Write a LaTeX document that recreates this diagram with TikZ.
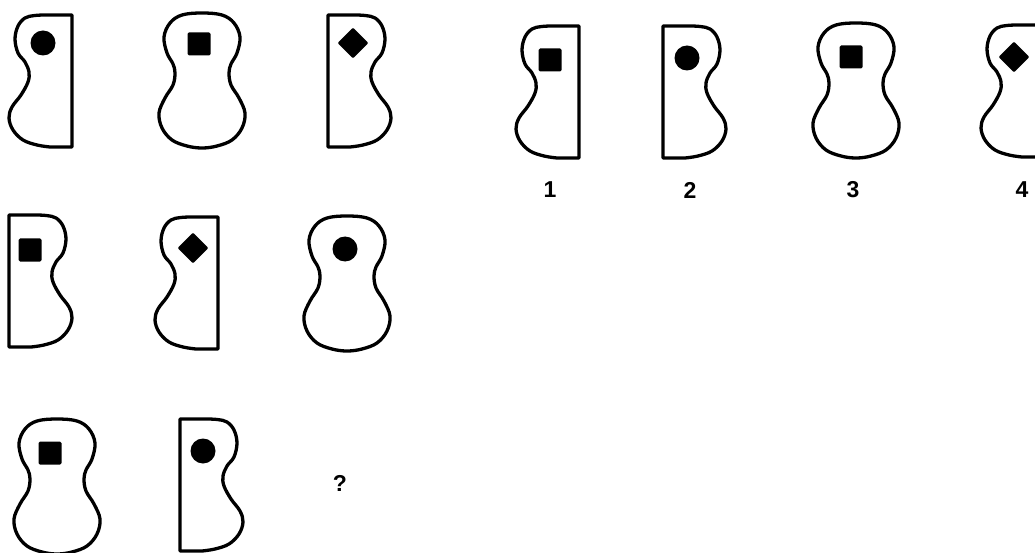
\documentclass[tikz,border=0pt]{standalone}
\usepackage{fontspec}
\setmainfont{Liberation Sans}
\usetikzlibrary{shapes.geometric}
\tikzset{
  outline/.style={line width=3.3pt, line join=round, black},
  lefthalf/.pic={
    \draw[outline] (0,0) -- plot[smooth, tension=0.6] coordinates {(-28,0) (-38,0.6) (-47,3) (-54,11) (-57,24) (-54,38) (-47,47) (-43,57) (-44,67) (-51,80) (-60,92) (-63,103) (-59,115) (-49,125) (-35,130) (-22,132)} -- (0,132) -- cycle;
  },
  righthalf/.pic={
    \draw[outline] (0,0) -- plot[smooth, tension=0.6] coordinates {(28,0) (38,0.6) (47,3) (54,11) (57,24) (54,38) (47,47) (43,57) (44,67) (51,80) (60,92) (63,103) (59,115) (49,125) (35,130) (22,132)} -- (0,132) -- cycle;
  },
  fullshape/.pic={
    \draw[outline] plot[smooth cycle, tension=0.6] coordinates {(0,0) (20,2) (32,10) (38,24) (35,40) (29,51) (27,60) (29,72) (37,85) (43,100) (40,115) (30,127) (15,133) (0,135) (-15,133) (-30,127) (-40,115) (-43,100) (-37,85) (-29,72) (-27,60) (-29,51) (-35,40) (-38,24) (-32,10) (-20,2)};
  },
  dot/.style={circle, fill=black, inner sep=0pt, minimum size=25pt},
  sq/.style={rectangle, fill=black, inner sep=0pt, minimum size=23pt, rounded corners=1.5pt},
  dia/.style={diamond, fill=black, inner sep=0pt, minimum size=31pt, rounded corners=1pt},
  lbl/.style={font=\bfseries\fontsize{23}{23}\selectfont, inner sep=0pt}
}
\begin{document}
\begin{tikzpicture}[x=1pt, y=-1pt]
\useasboundingbox (0,0) rectangle (1035,553);
\clip (0,0) rectangle (1035,553);
% Row 1
\pic (a1) at (72,15) {lefthalf};
\node[dot] (a1s) at (43,43) {};
\pic (b1) at (202,13) {fullshape};
\node[sq] (b1s) at (199,44) {};
\pic (c1) at (328,15) {righthalf};
\node[dia] (c1s) at (353,43) {};
% Row 2
\pic (a2) at (9,215) {righthalf};
\node[sq] (a2s) at (30,250) {};
\pic (b2) at (218,217) {lefthalf};
\node[dia] (b2s) at (193,248) {};
\pic (c2) at (347,216) {fullshape};
\node[dot] (c2s) at (345,249) {};
% Row 3
\pic (a3) at (57,419) {fullshape};
\node[sq] (a3s) at (50,453) {};
\pic (b3) at (180,419) {righthalf};
\node[dot] (b3s) at (203,451) {};
\node[lbl] (q) at (340,483) {?};
% Options
\pic (o1) at (579,26) {lefthalf};
\node[sq] (o1s) at (550,60) {};
\pic (o2) at (663,26) {righthalf};
\node[dot] (o2s) at (687,58) {};
\pic (o3) at (856,23) {fullshape};
\node[sq] (o3s) at (851,57) {};
\pic (o4) at (1044,25) {lefthalf};
\node[dia] (o4s) at (1014,57) {};
\node[lbl] (l1) at (550,190) {1};
\node[lbl] (l2) at (690,190) {2};
\node[lbl] (l3) at (853,190) {3};
\node[lbl] (l4) at (1022,190) {4};
\end{tikzpicture}
\end{document}
